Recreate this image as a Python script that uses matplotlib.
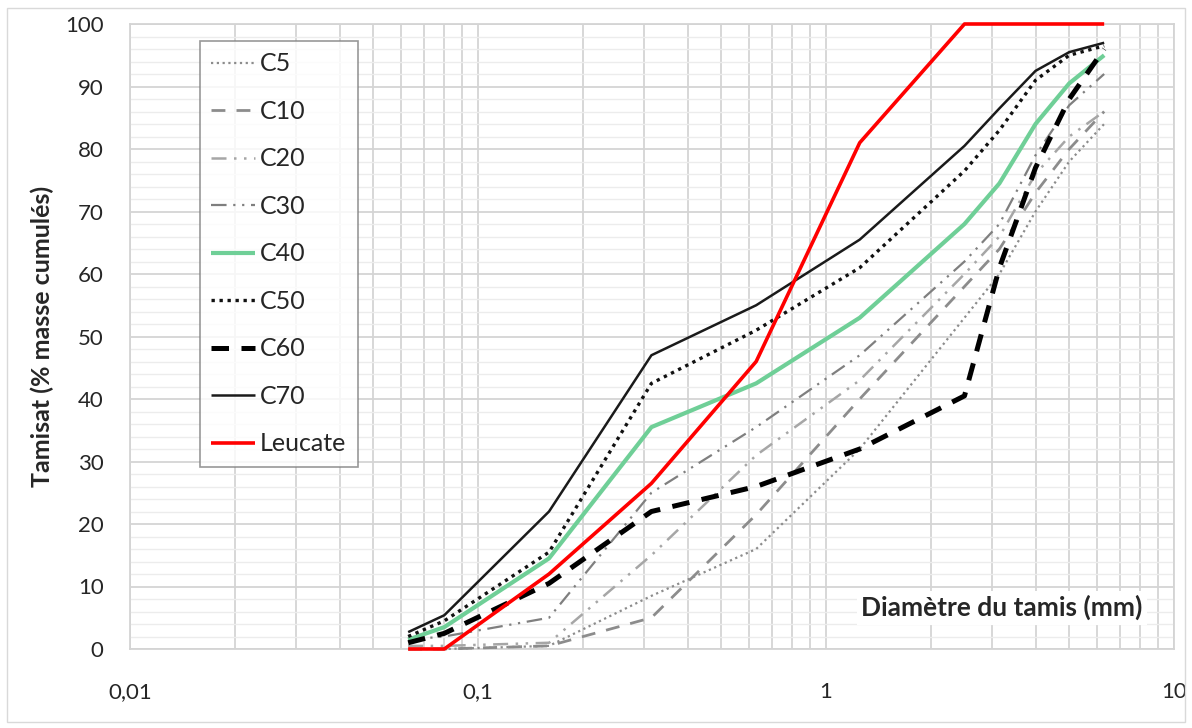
import matplotlib
matplotlib.use('Agg')
import matplotlib.pyplot as plt
from matplotlib.ticker import FixedLocator, FuncFormatter, MultipleLocator
from matplotlib.patches import Rectangle

plt.rcParams['font.family'] = ['Lato', 'DejaVu Sans']

# ── Données ───────────────────────────────────────────────────────────────────
sieves = [0.063, 0.08, 0.16, 0.315, 0.63, 1.25, 2.5, 3.15, 4, 5, 6.3]

c5      = [0, 0, 0.5, 8.5, 16, 32, 53, 60, 70, 78, 84]
c10     = [0, 0, 0.5, 5, 21.5, 40, 58, 64, 73, 80, 86]
c20     = [0.5, 0.5, 1, 15, 31, 43, 60, 66, 76, 82, 86]
c30     = [1.5, 2, 5, 25, 35.5, 47, 62, 68, 79, 87, 92]
c40     = [1.5, 3.5, 14.5, 35.5, 42.5, 53, 68, 74.5, 84, 90.5, 95]
c50     = [2, 4.5, 15.5, 42.5, 51, 61, 76.5, 83, 91, 95, 96.5]
c60     = [1, 2.5, 10.5, 22, 26, 32, 40.5, 61, 77, 88, 96]
c70     = [2.7, 5.4, 22, 47, 55, 65.5, 80.5, 86.5, 92.5, 95.5, 97]
leucate = [0, 0, 12, 26.5, 46, 81, 100, 100, 100, 100, 100]

x_ticks = [0.01, 0.1, 1, 10]

# ── Styles ────────────────────────────────────────────────────────────────────
series = [
    ('C5',      c5,      dict(color='#8c8c8c', lw=1.6, ls=(0, (1, 1.6)))),
    ('C10',     c10,     dict(color='#8c8c8c', lw=2.0, ls=(0, (5, 4)))),
    ('C20',     c20,     dict(color='#a6a6a6', lw=1.8, ls=(0, (6, 3, 1, 3, 1, 3)))),
    ('C30',     c30,     dict(color='#7f7f7f', lw=1.6, ls=(0, (7, 3, 1, 3, 1, 3)))),
    ('C40',     c40,     dict(color='#6fcf97', lw=3.0, ls='-')),
    ('C50',     c50,     dict(color='#111111', lw=2.4, ls=(0, (1, 1.4)))),
    ('C60',     c60,     dict(color='#000000', lw=3.6, ls=(0, (3.5, 2.5)))),
    ('C70',     c70,     dict(color='#1a1a1a', lw=1.8, ls='-')),
    ('Leucate', leucate, dict(color='#ff0000', lw=2.6, ls='-')),
]

fig = plt.figure(figsize=(11.92, 7.28), dpi=100)
ax = fig.add_axes([130/1192, 1 - 649/728, 1044/1192, 625/728])

fig.patches.append(Rectangle((7/1192, 6/728), 1178/1192, 714/728,
                             transform=fig.transFigure, fill=False,
                             edgecolor='#d9d9d9', lw=1))

for name, vals, st in series:
    ax.plot(sieves, vals, label=name, solid_capstyle='butt',
            dash_capstyle='butt', clip_on=False, zorder=3, **st)

ax.set_xscale('log')
ax.set_xlim(0.01, 10)
ax.set_ylim(0, 100)

ax.xaxis.set_major_locator(FixedLocator(x_ticks))
ax.xaxis.set_minor_locator(FixedLocator(
    [m * d for d in (0.01, 0.1, 1) for m in range(2, 10)]))
ax.xaxis.set_major_formatter(FuncFormatter(lambda v, p: f'{v:g}'.replace('.', ',')))
ax.xaxis.set_minor_formatter(FuncFormatter(lambda v, p: ''))
ax.yaxis.set_major_locator(MultipleLocator(10))
ax.yaxis.set_minor_locator(MultipleLocator(2))

ax.grid(which='major', color='#d4d4d4', lw=1.3)
ax.grid(which='minor', axis='x', color='#d4d4d4', lw=1.3)
ax.grid(which='minor', axis='y', color='#ececec', lw=1.0)
ax.set_axisbelow(True)

ax.tick_params(which='both', length=0)
ax.tick_params(axis='x', labelsize=16, pad=24)
ax.tick_params(axis='y', labelsize=16, pad=19)
for lab in ax.get_xticklabels() + ax.get_yticklabels():
    lab.set_color('#262626')
for s in ax.spines.values():
    s.set_color('#d4d4d4')
    s.set_linewidth(1.3)

ax.set_ylabel('Tamisat (% masse cumulés)', fontsize=18, fontweight='bold',
              color='#262626', labelpad=8)
ax.text(0.97, 0.066, 'Diamètre du tamis (mm)', transform=ax.transAxes,
        ha='right', va='center', fontsize=19, fontweight='bold', color='#262626',
        bbox=dict(facecolor='white', edgecolor='none', pad=3), zorder=4)

leg = ax.legend(loc='upper left', bbox_to_anchor=(70/1044, 1 - 17/625),
                fontsize=18, frameon=True, fancybox=False, edgecolor='#7f7f7f',
                handlelength=1.75, handletextpad=0.2, labelspacing=0.98,
                borderpad=0.45, borderaxespad=0)
leg.get_frame().set_linewidth(1.2)
leg.set_zorder(5)
for t in leg.get_texts():
    t.set_color('#262626')

fig.savefig('out.png', dpi=100)
